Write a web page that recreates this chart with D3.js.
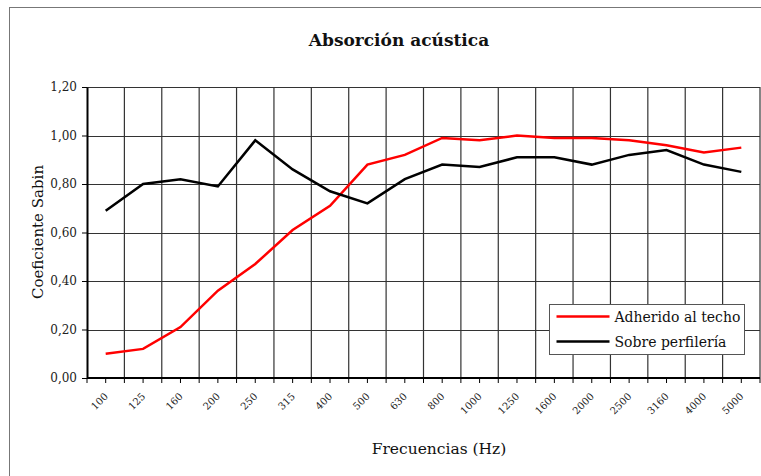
<!DOCTYPE html>
<html>
<head>
<meta charset="utf-8">
<script src="https://cdn.jsdelivr.net/npm/d3@7"></script>
<style>
  body { margin: 0; background: #fff; }
  svg { display: block; font-family: "DejaVu Serif", serif; }
</style>
</head>
<body>
<script>
// Frequencies (categories)
var frecuencias = ['100', '125', '160', '200', '250', '315', '400', '500', '630',
                   '800', '1000', '1250', '1600', '2000', '2500', '3160', '4000', '5000'];

// Series values
var adheridoTecho = [0.10, 0.12, 0.21, 0.36, 0.47, 0.61, 0.71, 0.88, 0.92,
                     0.99, 0.98, 1.00, 0.99, 0.99, 0.98, 0.96, 0.93, 0.95];
var sobrePerfileria = [0.69, 0.80, 0.82, 0.79, 0.98, 0.86, 0.77, 0.72, 0.82,
                       0.88, 0.87, 0.91, 0.91, 0.88, 0.92, 0.94, 0.88, 0.85];

var yTicks = [0, 0.2, 0.4, 0.6, 0.8, 1.0, 1.2];

var series = [
  { name: 'Adherido al techo', values: adheridoTecho, color: '#ff0000' },
  { name: 'Sobre perfilería', values: sobrePerfileria, color: '#000000' }
];

var width = 761, height = 476;
var plot = { left: 87, top: 87, right: 760, bottom: 378 };
var font = '"DejaVu Serif", serif';

var svg = d3.select('body').append('svg')
    .attr('width', width)
    .attr('height', height);

// Outer chart frame
svg.append('rect')
    .attr('x', 9.5).attr('y', 7.5)
    .attr('width', width + 20).attr('height', height + 20)
    .attr('fill', 'none')
    .attr('stroke', '#777')
    .attr('stroke-width', 1);

// Scales
var x = d3.scaleBand()
    .domain(frecuencias)
    .range([plot.left, plot.right]);

var y = d3.scaleLinear()
    .domain([0, 1.2])
    .range([plot.bottom, plot.top]);

var fmt = function(d) { return d3.format('.2f')(d).replace('.', ','); };

// Horizontal grid
svg.append('g')
  .selectAll('line')
  .data(yTicks)
  .enter().append('line')
    .attr('x1', plot.left).attr('x2', plot.right)
    .attr('y1', function(d) { return Math.round(y(d)) + 0.5; })
    .attr('y2', function(d) { return Math.round(y(d)) + 0.5; })
    .attr('stroke', '#333')
    .attr('stroke-width', 1.2);

// Vertical grid at category boundaries
var boundaries = frecuencias.map(function(f) { return x(f); }).concat([plot.right]);
svg.append('g')
  .selectAll('line')
  .data(boundaries.slice(1))
  .enter().append('line')
    .attr('x1', function(d) { return d; }).attr('x2', function(d) { return d; })
    .attr('y1', plot.top).attr('y2', plot.bottom)
    .attr('stroke', '#333')
    .attr('stroke-width', 1.2);

// Y axis
var yAxis = svg.append('g')
    .attr('transform', 'translate(' + plot.left + ',0)')
    .call(d3.axisLeft(y).tickValues(yTicks).tickFormat(fmt).tickSize(5).tickSizeOuter(0));
yAxis.attr('font-family', font).attr('font-size', 12);
yAxis.select('.domain').attr('stroke', '#000').attr('stroke-width', 2);
yAxis.selectAll('.tick line').attr('stroke', '#000');
yAxis.selectAll('.tick text')
    .attr('fill', '#222')
    .attr('x', -10);

// X axis: ticks at boundaries and at category centres
var xAxisG = svg.append('g')
    .attr('transform', 'translate(0,' + plot.bottom + ')')
    .attr('font-family', font)
    .attr('font-size', 10);
xAxisG.append('line')
    .attr('x1', plot.left).attr('x2', plot.right)
    .attr('y1', 0).attr('y2', 0)
    .attr('stroke', '#000').attr('stroke-width', 2);
var tickPos = boundaries.concat(frecuencias.map(function(f) { return x(f) + x.bandwidth() / 2; }));
xAxisG.selectAll('line.tk')
  .data(tickPos)
  .enter().append('line')
    .attr('class', 'tk')
    .attr('x1', function(d) { return d; }).attr('x2', function(d) { return d; })
    .attr('y1', 0).attr('y2', 5)
    .attr('stroke', '#000');
xAxisG.selectAll('text')
  .data(frecuencias)
  .enter().append('text')
    .attr('transform', function(d) {
      return 'translate(' + (x(d) + x.bandwidth() / 2 + 3) + ',19) rotate(-45)';
    })
    .attr('text-anchor', 'end')
    .attr('fill', '#222')
    .text(function(d) { return d; });

// Lines
var line = d3.line()
    .x(function(d, i) { return x(frecuencias[i]) + x.bandwidth() / 2; })
    .y(function(d) { return y(d); });

svg.append('g')
  .selectAll('path')
  .data(series)
  .enter().append('path')
    .attr('d', function(s) { return line(s.values); })
    .attr('fill', 'none')
    .attr('stroke', function(s) { return s.color; })
    .attr('stroke-width', 2.5)
    .attr('stroke-linejoin', 'miter');

// Title
svg.append('text')
    .attr('x', 399).attr('y', 46)
    .attr('text-anchor', 'middle')
    .attr('font-size', 17)
    .attr('font-weight', 'bold')
    .attr('fill', '#111')
    .text('Absorción acústica');

// Axis titles
svg.append('text')
    .attr('transform', 'translate(43,232) rotate(-90)')
    .attr('text-anchor', 'middle')
    .attr('font-size', 15)
    .attr('fill', '#111')
    .text('Coeficiente Sabin');

svg.append('text')
    .attr('x', 439).attr('y', 454)
    .attr('text-anchor', 'middle')
    .attr('font-size', 15.5)
    .attr('fill', '#111')
    .text('Frecuencias (Hz)');

// Legend
var legend = svg.append('g').attr('transform', 'translate(549.5,304.5)');
legend.append('rect')
    .attr('width', 195).attr('height', 50)
    .attr('fill', '#fff')
    .attr('stroke', '#555');
var items = legend.selectAll('g.item')
  .data(series)
  .enter().append('g')
    .attr('class', 'item')
    .attr('transform', function(s, i) { return 'translate(0,' + (12 + i * 25) + ')'; });
items.append('line')
    .attr('x1', 7).attr('x2', 60)
    .attr('stroke', function(s) { return s.color; })
    .attr('stroke-width', 2.5);
items.append('text')
    .attr('x', 65).attr('y', 5)
    .attr('font-size', 14)
    .attr('fill', '#111')
    .text(function(s) { return s.name; });
</script>
</body>
</html>
